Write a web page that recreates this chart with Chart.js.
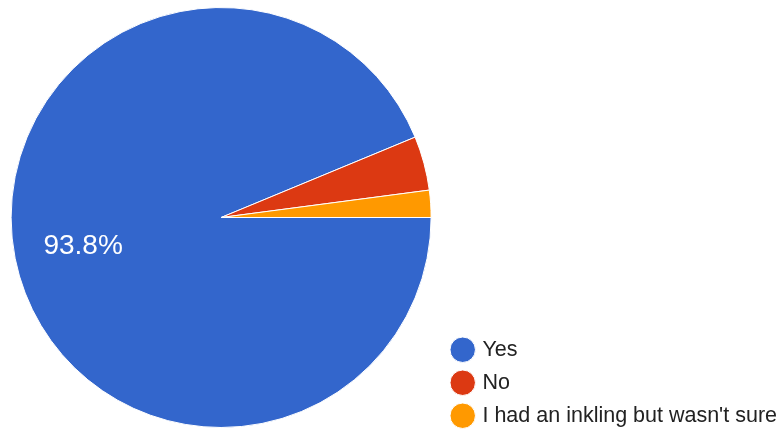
<!DOCTYPE html>
<html>
<head>
<meta charset="utf-8">
<script src="https://cdn.jsdelivr.net/npm/chart.js@4.4.0/dist/chart.umd.min.js"></script>
<style>
  html, body { margin: 0; padding: 0; background: #fff; }
  #wrap { width: 782px; height: 430px; }
</style>
</head>
<body>
<div id="wrap"><canvas id="pieChart"></canvas></div>
<script>
// Survey answers (response counts)
const labels = ['Yes', 'No', "I had an inkling but wasn't sure"];
const counts = [45, 2, 1];
const colors = ['#3366cc', '#dc3912', '#ff9900'];

// Draw percentage text inside slices that are big enough
const sliceLabels = {
  id: 'sliceLabels',
  afterDatasetsDraw(chart) {
    const ctx = chart.ctx;
    const data = chart.data.datasets[0].data;
    const total = data.reduce((a, b) => a + b, 0);
    chart.getDatasetMeta(0).data.forEach((arc, i) => {
      const pct = data[i] / total * 100;
      if (pct < 5) return;
      const p = arc.getProps(['x', 'y', 'startAngle', 'endAngle', 'outerRadius']);
      const mid = (p.startAngle + p.endAngle) / 2;
      const r = p.outerRadius * 0.67;
      ctx.save();
      ctx.fillStyle = '#ffffff';
      ctx.font = '28px "Liberation Sans", Arial, sans-serif';
      ctx.textAlign = 'center';
      ctx.textBaseline = 'middle';
      ctx.fillText(pct.toFixed(1) + '%', p.x + Math.cos(mid) * r, p.y + Math.sin(mid) * r + 1);
      ctx.restore();
    });
  }
};

new Chart(document.getElementById('pieChart'), {
  type: 'pie',
  data: {
    labels: labels,
    datasets: [{
      data: counts,
      backgroundColor: colors,
      borderColor: '#ffffff',
      borderWidth: 1
    }]
  },
  options: {
    responsive: true,
    maintainAspectRatio: false,
    animation: false,
    rotation: 90,
    radius: 210,
    layout: { padding: { top: 5, bottom: -8, left: -1, right: -5 } },
    plugins: {
      tooltip: { enabled: false },
      legend: {
        position: 'right',
        align: 'end',
        labels: {
          usePointStyle: true,
          pointStyle: 'circle',
          boxWidth: 18,
          boxHeight: 18,
          padding: 11.5,
          color: '#222222',
          font: { family: '"Liberation Sans", Arial, sans-serif', size: 21.5 }
        }
      }
    }
  },
  plugins: [sliceLabels]
});
</script>
</body>
</html>
